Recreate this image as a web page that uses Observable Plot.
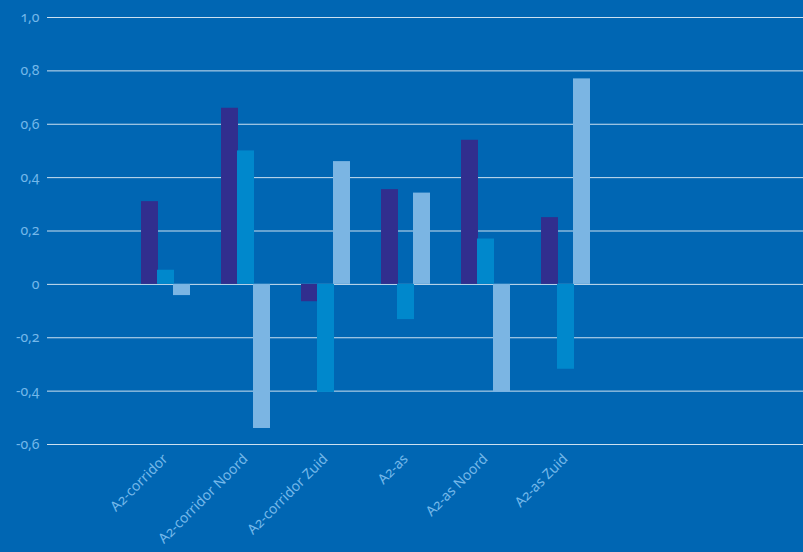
<!DOCTYPE html>
<html>
<head>
<meta charset="utf-8">
<script src="https://cdn.jsdelivr.net/npm/d3@7"></script>
<script src="https://cdn.jsdelivr.net/npm/@observablehq/plot@0.6"></script>
<style>
  html, body { margin: 0; padding: 0; background: #0066b3; }
  #chart svg { display: block; background: #0066b3; }
  #chart text { font-variant-numeric: oldstyle-nums; }
</style>
</head>
<body>
<div id="chart"></div>
<script>
const categories = ["A2-corridor", "A2-corridor Noord", "A2-corridor Zuid", "A2-as", "A2-as Noord", "A2-as Zuid"];
const seriesNames = ["reeks 1", "reeks 2", "reeks 3"];
const series1 = [0.31, 0.66, -0.065, 0.355, 0.54, 0.25];
const series2 = [0.053, 0.50, -0.405, -0.132, 0.17, -0.318];
const series3 = [-0.042, -0.54, 0.46, 0.342, -0.405, 0.77];
const seriesColors = ["#312e8e", "#0088cc", "#7bb5e3"];
const yTicks = [-0.6, -0.4, -0.2, 0, 0.2, 0.4, 0.6, 0.8, 1.0];

const seriesValues = [series1, series2, series3];
const rows = [];
seriesNames.forEach((s, i) => categories.forEach((c, j) => rows.push({category: c, series: s, value: seriesValues[i][j]})));

const bandWidth = 80, groupPad = 16, barStep = 16, barWidth = 17;
const fmt = d => d === 0 ? "0" : d.toFixed(1).replace(".", ",");

const marks = [
  Plot.gridY(yTicks, {stroke: "#ffffff", strokeOpacity: 0.8, strokeWidth: 1})
];
seriesNames.forEach((s, i) => {
  const left = groupPad + i * barStep;
  marks.push(Plot.barY(rows.filter(r => r.series === s), {
    x: "category", y: "value", fill: "series",
    insetLeft: left, insetRight: bandWidth - left - barWidth
  }));
});
marks.push(Plot.axisY(yTicks, {tickSize: 0, tickPadding: 8, tickFormat: fmt, fill: "#74b8ea", fontSize: 14}));
marks.push(Plot.axisX({tickSize: 0, tickPadding: 12, tickRotate: -45, fill: "#74b8ea", fontSize: 14}));

const chart = Plot.plot({
  width: 803,
  height: 552,
  marginTop: 17,
  marginBottom: 108,
  marginLeft: 47,
  marginRight: 0,
  style: {background: "#0066b3", fontFamily: "'Noto Sans', sans-serif", fontSize: "14px"},
  x: {domain: categories, range: [125, 605], padding: 0, label: null},
  y: {domain: [-0.6, 1.0], label: null},
  color: {domain: seriesNames, range: seriesColors},
  marks
});
document.getElementById("chart").appendChild(chart);
</script>
</body>
</html>
